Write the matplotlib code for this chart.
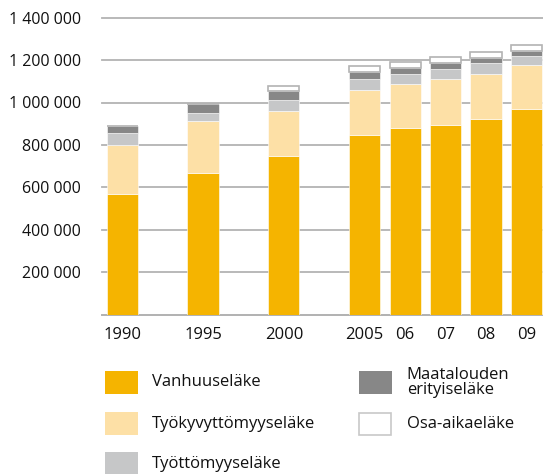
import matplotlib
matplotlib.use("Agg")
import matplotlib.pyplot as plt
from matplotlib.patches import Rectangle
from matplotlib.ticker import FuncFormatter

# values in pensioners
years = ['1990', '1995', '2000', '2005', '06', '07', '08', '09']
positions = [0, 2, 4, 6, 7, 8, 9, 10]
vanhuus = [568000, 667000, 749000, 848000, 879000, 893000, 921000, 967000]
tyokyvyttomyys = [231000, 244000, 213000, 213000, 210000, 217000, 215000, 212000]
tyottomyys = [55000, 40000, 52000, 50000, 46000, 47000, 48000, 41000]
maatalous = [36000, 43000, 39000, 32000, 26000, 28000, 28000, 21000]
osa_aika = [0, 0, 24000, 30000, 32000, 28000, 26000, 30000]

labels = ['Vanhuuseläke', 'Työkyvyttömyyseläke', 'Työttömyyseläke',
          'Maatalouden\nerityiseläke', 'Osa-aikaeläke']
colors = ['#F5B400', '#FDE0A6', '#C6C7C8', '#878787', '#FFFFFF']

plt.rcParams['font.family'] = ['Open Sans', 'DejaVu Sans']
text_col = '#111111'
grid_col = '#b3b3b3'

fig = plt.figure(figsize=(5.43, 4.74), dpi=100)
W, H = 543, 474
ax = fig.add_axes([101.7 / W, 1 - 314.5 / H, 1 - 101.7 / W, 296.8 / H])

series = [vanhuus, tyokyvyttomyys, tyottomyys, maatalous, osa_aika]
bottom = [0] * len(years)
for vals, col in zip(series, colors):
    if col == '#FFFFFF':
        ax.bar(positions, vals, 0.77, bottom=bottom, color=col,
               edgecolor=grid_col, linewidth=1.2, zorder=3)
    else:
        ax.bar(positions, vals, 0.77, bottom=bottom, color=col,
               edgecolor='white', linewidth=0.4, zorder=3)
    bottom = [b + v for b, v in zip(bottom, vals)]

ax.set_xlim(-0.506, 10.41)
ax.set_ylim(0, 1400000)
ax.set_yticks(range(0, 1400001, 200000))
ax.yaxis.set_major_formatter(FuncFormatter(
    lambda v, p: '' if v == 0 else f'{int(v):,}'.replace(',', ' ')))
ax.set_xticks(positions)
ax.set_xticklabels(years)

ax.grid(axis='y', color=grid_col, linewidth=1.3, zorder=0)
for gl in ax.get_ygridlines():
    gl.set_clip_on(False)
for s in ['top', 'right', 'left']:
    ax.spines[s].set_visible(False)
ax.spines['bottom'].set_color(grid_col)
ax.spines['bottom'].set_linewidth(1.3)
ax.tick_params(axis='y', length=0, labelsize=11.5, colors=text_col, pad=15)
ax.tick_params(axis='x', length=0, labelsize=12, colors=text_col, pad=9)

# legend drawn by hand in figure pixels
legend_items = [
    (105, 371, 0, 151.7, 382.5),
    (105, 412, 1, 151.7, 424),
    (105, 452, 2, 151.7, 463.5),
    (359, 371, 3, 406.7, 382.5),
    (359, 413, 4, 406.7, 424),
]
for x0, y0, idx, tx, ty in legend_items:
    if idx == 4:
        r = Rectangle((x0 / W, 1 - (y0 + 22) / H), 32 / W, 22 / H,
                      transform=fig.transFigure, facecolor='white',
                      edgecolor='#c8c8c8', linewidth=1.2)
    else:
        r = Rectangle((x0 / W, 1 - (y0 + 23) / H), 33 / W, 23 / H,
                      transform=fig.transFigure, facecolor=colors[idx],
                      edgecolor='none')
    fig.patches.append(r)
    fig.text(tx / W, 1 - ty / H, labels[idx], fontsize=12, color=text_col,
             va='center', ha='left', linespacing=0.95)

fig.savefig('out.png', dpi=100)
